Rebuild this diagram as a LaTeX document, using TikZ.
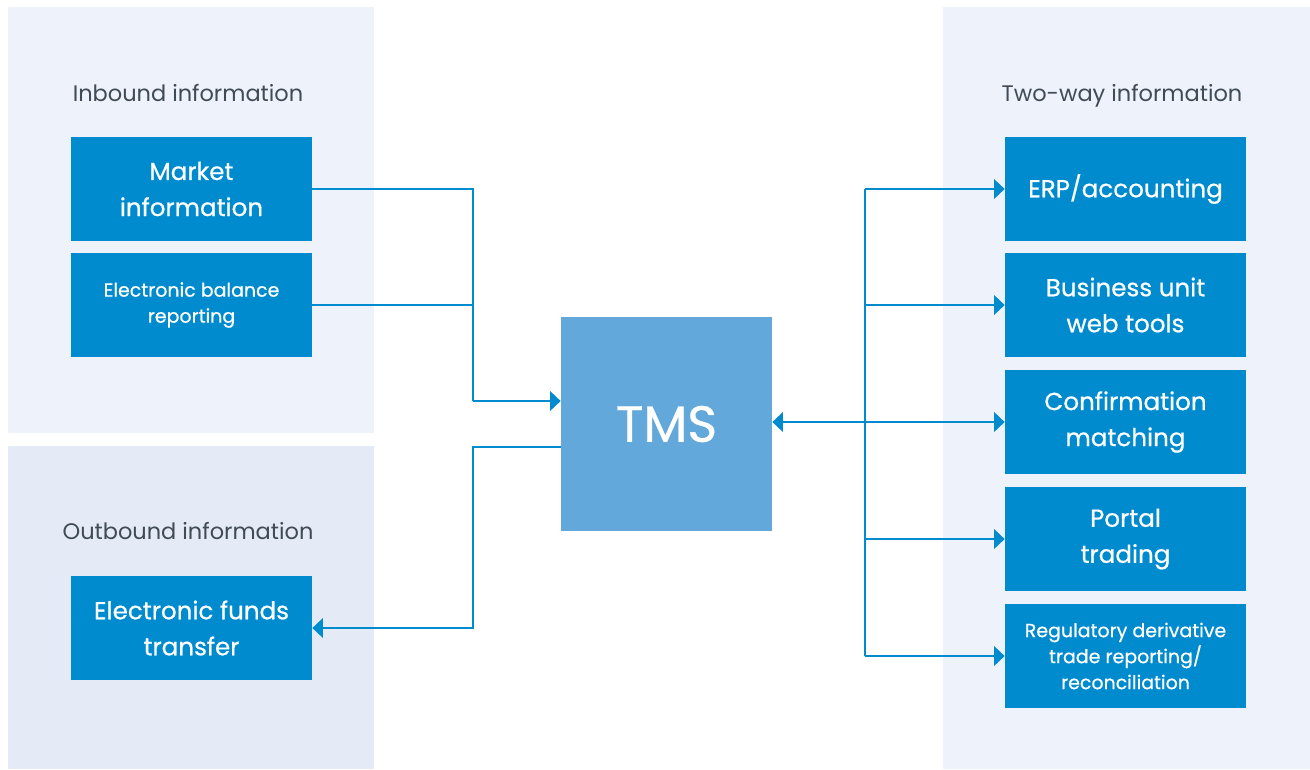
\documentclass[tikz,border=0pt]{standalone}
\usepackage{fontspec}
\setmainfont{Poppins}
\newfontfamily\boxfont{Poppins}[FakeBold=0.6]
\usetikzlibrary{arrows.meta}
\definecolor{boxblue}{RGB}{0,139,207}
\definecolor{tmsblue}{RGB}{99,168,219}
\definecolor{panelA}{RGB}{238,243,251}
\definecolor{panelB}{RGB}{228,235,246}
\definecolor{headgray}{RGB}{64,75,85}
\tikzstyle{infobox}=[rectangle, fill=boxblue, text=white, minimum width=241*0.02cm, minimum height=104*0.02cm, inner sep=0pt, align=center, font=\boxfont\fontsize{14}{20.5}\selectfont]
\tikzstyle{smallbox}=[infobox, font=\boxfont\fontsize{10.8}{14.8}\selectfont]
\tikzstyle{heading}=[text=headgray, text height=9pt, text depth=3pt, font=\fontsize{12.8}{15}\selectfont]
\tikzstyle{link}=[boxblue, line width=1.5pt]
\tikzstyle{tip}=[link, -{Triangle[length=6pt,width=11pt]}]
\newcommand{\infobox}{\node[infobox]}

\begin{document}
\begin{tikzpicture}[x=0.02cm, y=-0.02cm]
\useasboundingbox (0,0) rectangle (1310,769);
% panels
\fill[panelA] (8,7) rectangle (374,433);
\fill[panelB] (8,446) rectangle (374,769);
\fill[panelA] (943,7) rectangle (1310,769);
\node[heading] (inhead) at (188,96) {Inbound information};
\node[heading] (outhead) at (188,534) {Outbound information};
\node[heading] (twohead) at (1122,96) {Two-way information};
% left side
\infobox (market) at (191.5,189) {Market\\information};
\node[smallbox] (balance) at (191.5,305) {Electronic balance\\reporting};
\infobox (eft) at (191.5,628) {Electronic funds\\transfer};
% TMS
\node[rectangle, fill=tmsblue, text=white, minimum width=211*0.02cm, minimum height=214*0.02cm, font=\boxfont\fontsize{29}{30}\selectfont] (tms) at (666.5,424) {TMS};
% right side
\foreach \n/\y/\t in {erp/189/{ERP/accounting}, bu/305/{Business unit\\web tools}, confirm/422/{Confirmation\\matching}, portal/539/{Portal\\trading}}{
	\infobox (\n) at (1125.5,\y) {\t};
	}
\node[smallbox] (reg) at (1125.5,656) {Regulatory derivative\\trade reporting/\\reconciliation};
% connectors
\coordinate (inj) at (473,401);
\coordinate (outj) at (473,447);
\coordinate (twj) at (865,188);
\draw[link] (market.east) -| (inj);
\draw[link] (balance.east) -| (inj);
\draw[tip] (inj) -- (tms.west |- inj);
\draw[tip] (tms.west |- outj) -- (outj) |- (eft.east);
\draw[link] (twj |- erp.west) -- (twj |- reg.west);
\draw[link, {Triangle[length=6pt,width=11pt]}-{Triangle[length=6pt,width=11pt]}] (tms.east |- confirm.west) -- (confirm.west);
\foreach \n in {erp,bu,portal,reg}{
	\draw[tip] (twj |- \n.west) -- (\n.west);
	}
\end{tikzpicture}
\end{document}
